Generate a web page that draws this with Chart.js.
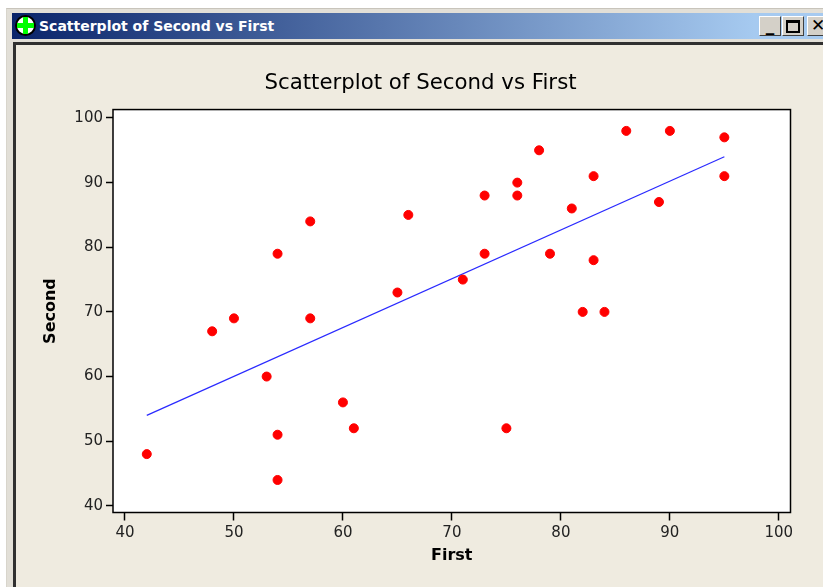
<!DOCTYPE html>
<html lang="en">
<head>
    <meta charset="UTF-8">
    <title>Scatterplot of Second vs First</title>
    <script src="https://cdn.jsdelivr.net/npm/chart.js"></script>
    <style>
        html, body {
            margin: 0;
            width: 823px;
            height: 587px;
            overflow: hidden;
            background: #ffffff;
        }
        #window {
            position: absolute;
            left: 6px;
            top: 8px;
            width: 830px;
            height: 590px;
            background: #e2dfd7;
            border-top: 1px solid #c8c4bb;
            border-left: 1px solid #d8d5cc;
        }
        #titlebar {
            position: absolute;
            left: 5px;
            top: 4px;
            width: 825px;
            height: 26px;
            background: linear-gradient(to right, #0a246a, #a6caf0 90%);
            color: #ffffff;
            font: bold 14px "DejaVu Sans", sans-serif;
            line-height: 26px;
        }
        #titlebar span {
            position: absolute;
            left: 27px;
            top: 0;
            white-space: nowrap;
        }
        #icon {
            position: absolute;
            left: 3px;
            top: 2px;
            width: 21px;
            height: 21px;
            box-sizing: border-box;
            border-radius: 50%;
            border: 2px solid #000000;
            background: #ffffff;
        }
        #icon i {
            position: absolute;
            background: #00ff00;
        }
        .btn {
            position: absolute;
            top: 3px;
            width: 20px;
            height: 18px;
            background: #d4d0c8;
            border: 1px solid;
            border-color: #ffffff #404040 #404040 #ffffff;
            color: #000000;
            text-align: center;
            font: bold 17px "DejaVu Sans", sans-serif;
            line-height: 17px;
        }
        .btn b {
            position: absolute;
            left: 3px;
            top: 3px;
            width: 10px;
            height: 8px;
            border: 2px solid #000000;
            border-top-width: 3px;
        }
        #body {
            position: absolute;
            left: 13px;
            top: 44px;
            width: 810px;
            height: 543px;
            background: #efebe0;
        }
        #frame-top {
            position: absolute;
            left: 13px;
            top: 42px;
            width: 810px;
            height: 3px;
            background: #303030;
        }
        #frame-left {
            position: absolute;
            left: 13px;
            top: 42px;
            width: 3px;
            height: 545px;
            background: #303030;
        }
        #plot {
            position: absolute;
            left: 16px;
            top: 45px;
        }
    </style>
</head>
<body>
    <div id="window">
        <div id="titlebar">
            <div id="icon"><i style="left:6px;top:0;width:5px;height:17px"></i><i style="left:0;top:6px;width:17px;height:5px"></i></div>
            <span>Scatterplot of Second vs First</span>
            <div class="btn" style="left:747px">_</div>
            <div class="btn" style="left:770px"><b></b></div>
            <div class="btn" style="left:795px">&#10005;</div>
        </div>
    </div>
    <div id="body"></div>
    <div id="frame-top"></div>
    <div id="frame-left"></div>
    <div id="plot"><canvas id="chart" width="807" height="542"></canvas></div>

    <script>
        var first = [42, 48, 50, 53, 54, 54, 54, 57, 57, 60, 61, 65, 66, 71, 73, 73, 75, 76, 76, 78, 79, 81, 82, 83, 83, 84, 86, 89, 90, 95, 95];
        var second = [48, 67, 69, 60, 79, 51, 44, 84, 69, 56, 52, 73, 85, 75, 88, 79, 52, 90, 88, 95, 79, 86, 70, 91, 78, 70, 98, 87, 98, 97, 91];

        // ends of the fitted line
        var fitFirst = [42, 95];
        var fitSecond = [54, 94];

        var xTicks = [40, 50, 60, 70, 80, 90, 100];
        var yTicks = [40, 50, 60, 70, 80, 90, 100];

        function toPoints(xs, ys) {
            return xs.map(function (x, i) {
                return { x: x, y: ys[i] };
            });
        }

        // Function to use fixed tick values instead of generated ones
        function fixedTicks(values) {
            return function (scale) {
                scale.ticks = values.map(function (v) {
                    return { value: v };
                });
            };
        }

        // White plot background, drawn under the marks
        var plotFill = {
            id: 'plotFill',
            beforeDatasetsDraw: function (chart) {
                var a = chart.chartArea;
                chart.ctx.save();
                chart.ctx.fillStyle = '#ffffff';
                chart.ctx.fillRect(a.left, a.top, a.right - a.left, a.bottom - a.top);
                chart.ctx.restore();
            }
        };

        // Draws the box around the plot area
        var plotBox = {
            id: 'plotBox',
            afterDraw: function (chart) {
                var a = chart.chartArea;
                var ctx = chart.ctx;
                ctx.save();
                ctx.strokeStyle = '#000000';
                ctx.lineWidth = 1.5;
                ctx.strokeRect(a.left, a.top, a.right - a.left, a.bottom - a.top);
                ctx.restore();
            }
        };

        var tickFont = { family: '"DejaVu Sans", sans-serif', size: 15 };
        var labelFont = { family: '"DejaVu Sans", sans-serif', size: 16, weight: 'bold', lineHeight: 1.2 };

        var chart = new Chart(document.getElementById('chart').getContext('2d'), {
            type: 'scatter',
            data: {
                datasets: [{
                    data: toPoints(first, second),
                    backgroundColor: '#ff0000',
                    borderColor: '#ff0000',
                    pointRadius: 4.5,
                    order: 1
                }, {
                    type: 'line',
                    data: toPoints(fitFirst, fitSecond),
                    borderColor: '#2a2aff',
                    borderWidth: 1.2,
                    pointRadius: 0,
                    order: 2
                }]
            },
            plugins: [plotFill, plotBox],
            options: {
                responsive: false,
                animation: false,
                layout: {
                    padding: { left: 34.5, right: 32.5, top: 0, bottom: 14.5 }
                },
                plugins: {
                    legend: { display: false },
                    tooltip: { enabled: false },
                    title: {
                        display: true,
                        text: 'Scatterplot of Second vs First',
                        color: '#000000',
                        font: { family: '"DejaVu Sans", sans-serif', size: 21.3, weight: 'normal', lineHeight: 1.2 },
                        padding: { top: 26, bottom: 13 }
                    }
                },
                scales: {
                    x: {
                        type: 'linear',
                        min: 38.9,
                        max: 101.07,
                        afterBuildTicks: fixedTicks(xTicks),
                        afterFit: function (scale) { scale.height = 60; },
                        grid: { drawOnChartArea: false, color: '#000000', tickLength: 8, tickWidth: 1.5 },
                        border: { display: false },
                        ticks: { color: '#222222', font: tickFont, padding: 4, maxRotation: 0, autoSkip: false },
                        title: { display: true, text: 'First', color: '#000000', font: labelFont, padding: { top: 0, bottom: 7 } }
                    },
                    y: {
                        min: 38.97,
                        max: 101.3,
                        afterBuildTicks: fixedTicks(yTicks),
                        afterFit: function (scale) { scale.width = 62.5; },
                        grid: { drawOnChartArea: false, color: '#000000', tickLength: 7, tickWidth: 1.5 },
                        border: { display: false },
                        ticks: { color: '#222222', font: tickFont, padding: 3, autoSkip: false },
                        title: { display: true, text: 'Second', color: '#000000', font: labelFont, padding: { top: -9.5, bottom: 0 } }
                    }
                }
            }
        });
    </script>
</body>
</html>
